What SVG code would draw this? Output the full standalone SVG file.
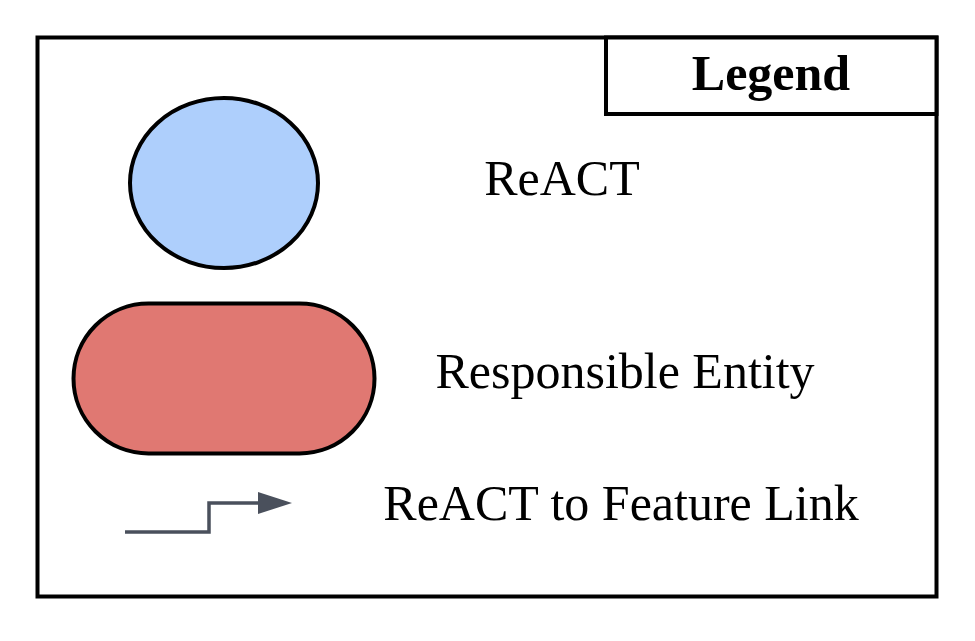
<svg xmlns="http://www.w3.org/2000/svg" width="975" height="641" viewBox="0 0 975 641">
<style>
.lbl{font-family:"Liberation Serif","Times New Roman",serif;font-size:50px;fill:#000}
.shape{stroke:#000;stroke-width:4}
.link{fill:none;stroke:#4a505c;stroke-width:3.5}
</style>
<defs>
<marker id="arr" markerWidth="34" markerHeight="22" refX="2" refY="11" orient="auto" markerUnits="userSpaceOnUse">
<path d="M0,0 L34,11 L0,22 Z" fill="#4a505c"/>
</marker>
</defs>
<rect width="975" height="641" fill="#fff"/>
<g id="frame">
<rect x="37.5" y="37.5" width="899" height="559" fill="none" stroke="#000" stroke-width="4"/>
</g>
<g id="legend-title">
<rect x="606" y="37.5" width="330.5" height="76.5" fill="#fff" stroke="#000" stroke-width="4"/>
<text x="771" y="90" text-anchor="middle" class="lbl" style="font-weight:bold">Legend</text>
</g>
<g id="react-node">
<ellipse cx="224" cy="183" rx="94" ry="85" fill="#aecffc" class="shape"/>
<text x="562" y="195" text-anchor="middle" class="lbl">ReACT</text>
</g>
<g id="entity-node">
<rect x="73.5" y="303.5" width="301" height="150" rx="75" ry="75" fill="#e07872" class="shape"/>
<text x="625" y="388" text-anchor="middle" class="lbl">Responsible Entity</text>
</g>
<g id="connectors">
<path d="M125,532 H209 V503 H260" class="link" marker-end="url(#arr)"/>
</g>
<g id="link-label">
<text x="621" y="520" text-anchor="middle" class="lbl">ReACT to Feature Link</text>
</g>
</svg>
